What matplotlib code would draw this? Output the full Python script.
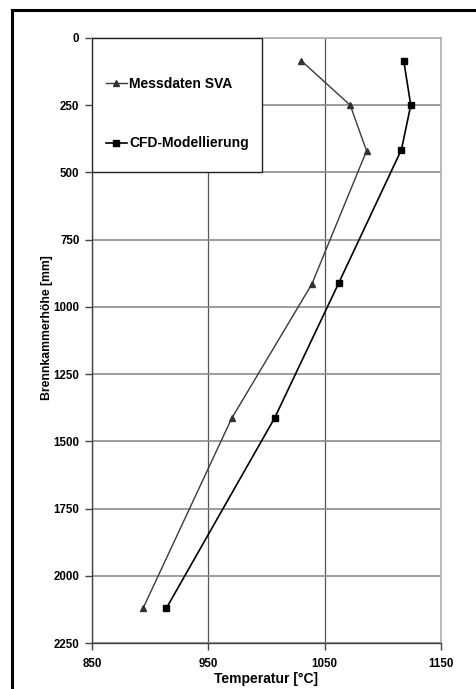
import matplotlib.pyplot as plt
from matplotlib.lines import Line2D
from matplotlib.patches import Rectangle

plt.rcParams['font.family'] = ['Liberation Sans', 'DejaVu Sans']

# measured vs. simulated temperature profile over combustion chamber height
hoehe_sva = [85, 250, 420, 915, 1415, 2120]
temp_sva = [1030, 1072, 1086, 1039, 970, 894]

hoehe_cfd = [85, 250, 415, 912, 1413, 2120]
temp_cfd = [1118, 1124, 1116, 1062, 1007, 914]

x_ticks = [850, 950, 1050, 1150]
y_ticks = [0, 250, 500, 750, 1000, 1250, 1500, 1750, 2000, 2250]

fig = plt.figure(figsize=(4.77, 6.89), dpi=100)
ax = fig.add_axes([92/477, 1 - 643/689, (441 - 92)/477, (643 - 38)/689])

ax.set_xlim(850, 1150)
ax.set_ylim(2250, 0)
ax.set_xticks(x_ticks)
ax.set_yticks(y_ticks)

ax.grid(True, axis='y', color='#8c8c8c', linewidth=1.2, zorder=0)
ax.grid(True, axis='x', color='#555555', linewidth=0.9, zorder=0)

ax.plot(temp_sva, hoehe_sva, color='#3a3a3a', linewidth=1.0, marker='^',
        markersize=5, markerfacecolor='#333333', markeredgecolor='#333333',
        label='Messdaten SVA', zorder=4)
ax.plot(temp_cfd, hoehe_cfd, color='black', linewidth=1.2, marker='s',
        markersize=5, markerfacecolor='black', markeredgecolor='black',
        label='CFD-Modellierung', zorder=4)

# legend box sits inside the plot area and hides the grid
box = Rectangle((850, 0), 146, 500, facecolor='white', edgecolor='#222222',
                linewidth=1.0, zorder=3)
ax.add_patch(box)
leg = ax.legend(loc='upper left', bbox_to_anchor=(0.04, 0.935), frameon=False,
                handlelength=1.5, handletextpad=0.15, labelspacing=3.25,
                borderaxespad=0, borderpad=0,
                prop={'weight': 'bold', 'size': 10})
leg.set_zorder(5)

for side in ['top', 'right']:
    ax.spines[side].set_color('#b0b0b0')
    ax.spines[side].set_linewidth(1.2)
ax.spines['left'].set_color('#444444')
ax.spines['bottom'].set_color('#444444')
ax.spines['left'].set_linewidth(1.0)
ax.spines['bottom'].set_linewidth(1.0)

ax.tick_params(axis='both', direction='out', length=5, width=1.0,
               color='#444444', labelsize=8.3)
for lab in ax.get_xticklabels() + ax.get_yticklabels():
    lab.set_fontweight('bold')
ax.tick_params(axis='y', pad=4)
ax.tick_params(axis='x', pad=6)

ax.set_xlabel('Temperatur [°C]', fontsize=10, fontweight='bold', labelpad=1)
ax.set_ylabel('Brennkammerhöhe [mm]', fontsize=8.8, fontweight='bold')
ax.yaxis.set_label_coords(-0.112, 0.522)

# outer frame
fig.add_artist(Line2D([12/477, 1.0], [1 - 10/689, 1 - 10/689], color='black', linewidth=2.2))
fig.add_artist(Line2D([12/477, 12/477], [0.0, 1 - 10/689], color='black', linewidth=2.2))

fig.savefig('out.png', dpi=100, facecolor='white')
